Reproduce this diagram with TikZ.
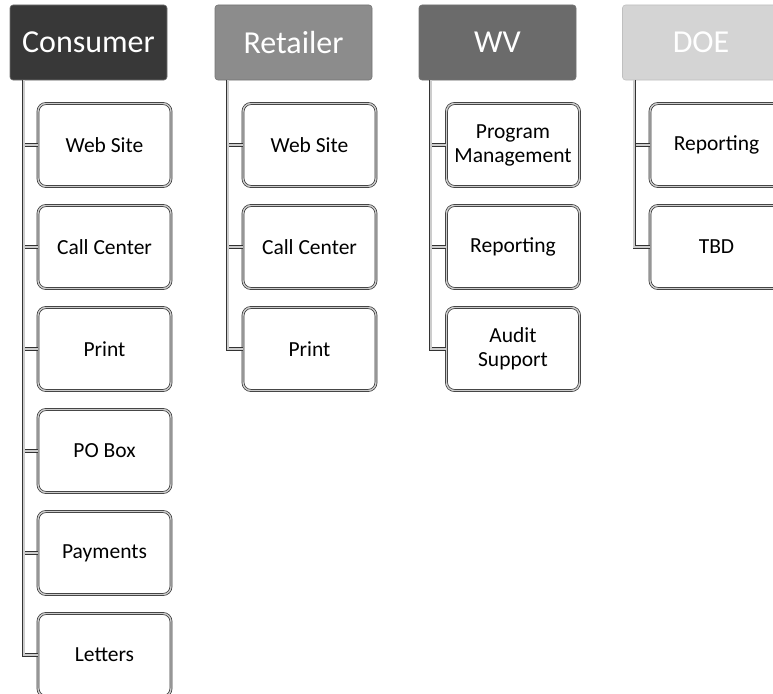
\documentclass[tikz,border=0pt]{standalone}
\usepackage{fontspec}
\setmainfont{Carlito}

\begin{document}
\begin{tikzpicture}[x=1pt,y=-1pt,
  head/.style={rounded corners=3pt, draw=black!55, line width=0.6pt, minimum width=157pt,
    minimum height=75pt, inner sep=0pt, text=white, font=\fontsize{32}{34}\selectfont},
  item/.style={rounded corners=8pt, draw=black!80, double=gray!40, double distance=1.4pt,
    line width=0.7pt, minimum width=133pt, minimum height=83pt, inner sep=0pt,
    align=center, font=\fontsize{21.5}{24}\selectfont},
  trunk/.style={draw=black!80, double=gray!40, double distance=1.8pt, line width=0.7pt}]
  \useasboundingbox (0,0) rectangle (773,693);
  \clip (0,0) rectangle (773,693);

  % group headers
  \node[head, fill=black!78] (cons) at (88.5,42.5) {Consumer};
  \node[head, fill=black!45] (ret) at (293.5,42.5) {Retailer};
  \node[head, fill=black!58] (wv) at (497.5,42.5) {WV};
  \node[head, fill=black!17, draw=black!25] (doe) at (701,42.5) {DOE};

  % trunk start points
  \coordinate (consT) at ([xshift=14pt]cons.south west);
  \coordinate (retT) at ([xshift=13pt]ret.south west);
  \coordinate (wvT) at ([xshift=12pt]wv.south west);
  \coordinate (doeT) at ([xshift=12pt]doe.south west);

  % child boxes
  \foreach \t [count=\i] in {Web Site, Call Center, Print, PO Box, Payments, Letters}
    \node[item] (cons\i) at (104.5,43+102*\i) {\t};
  \foreach \t [count=\i] in {Web Site, Call Center, Print}
    \node[item] (ret\i) at (309.5,43+102*\i) {\t};
  \foreach \t [count=\i] in {{Program\\Management}, Reporting, {Audit\\Support}}
    \node[item] (wv\i) at (513,43+102*\i) {\t};
  \foreach \t [count=\i] in {Reporting, TBD}
    \node[item] (doe\i) at (716.5,43+102*\i) {\t};

  % ticks, then trunk with elbow to the last child
  \foreach \i in {1,...,5}
    \draw[trunk] (consT |- cons\i.west) -- (cons\i.west);
  \draw[trunk] (consT) |- (cons6.west);
  \foreach \i in {1,2}
    \draw[trunk] (retT |- ret\i.west) -- (ret\i.west);
  \draw[trunk] (retT) |- (ret3.west);
  \foreach \i in {1,2}
    \draw[trunk] (wvT |- wv\i.west) -- (wv\i.west);
  \draw[trunk] (wvT) |- (wv3.west);
  \draw[trunk] (doeT |- doe1.west) -- (doe1.west);
  \draw[trunk] (doeT) |- (doe2.west);
\end{tikzpicture}
\end{document}
